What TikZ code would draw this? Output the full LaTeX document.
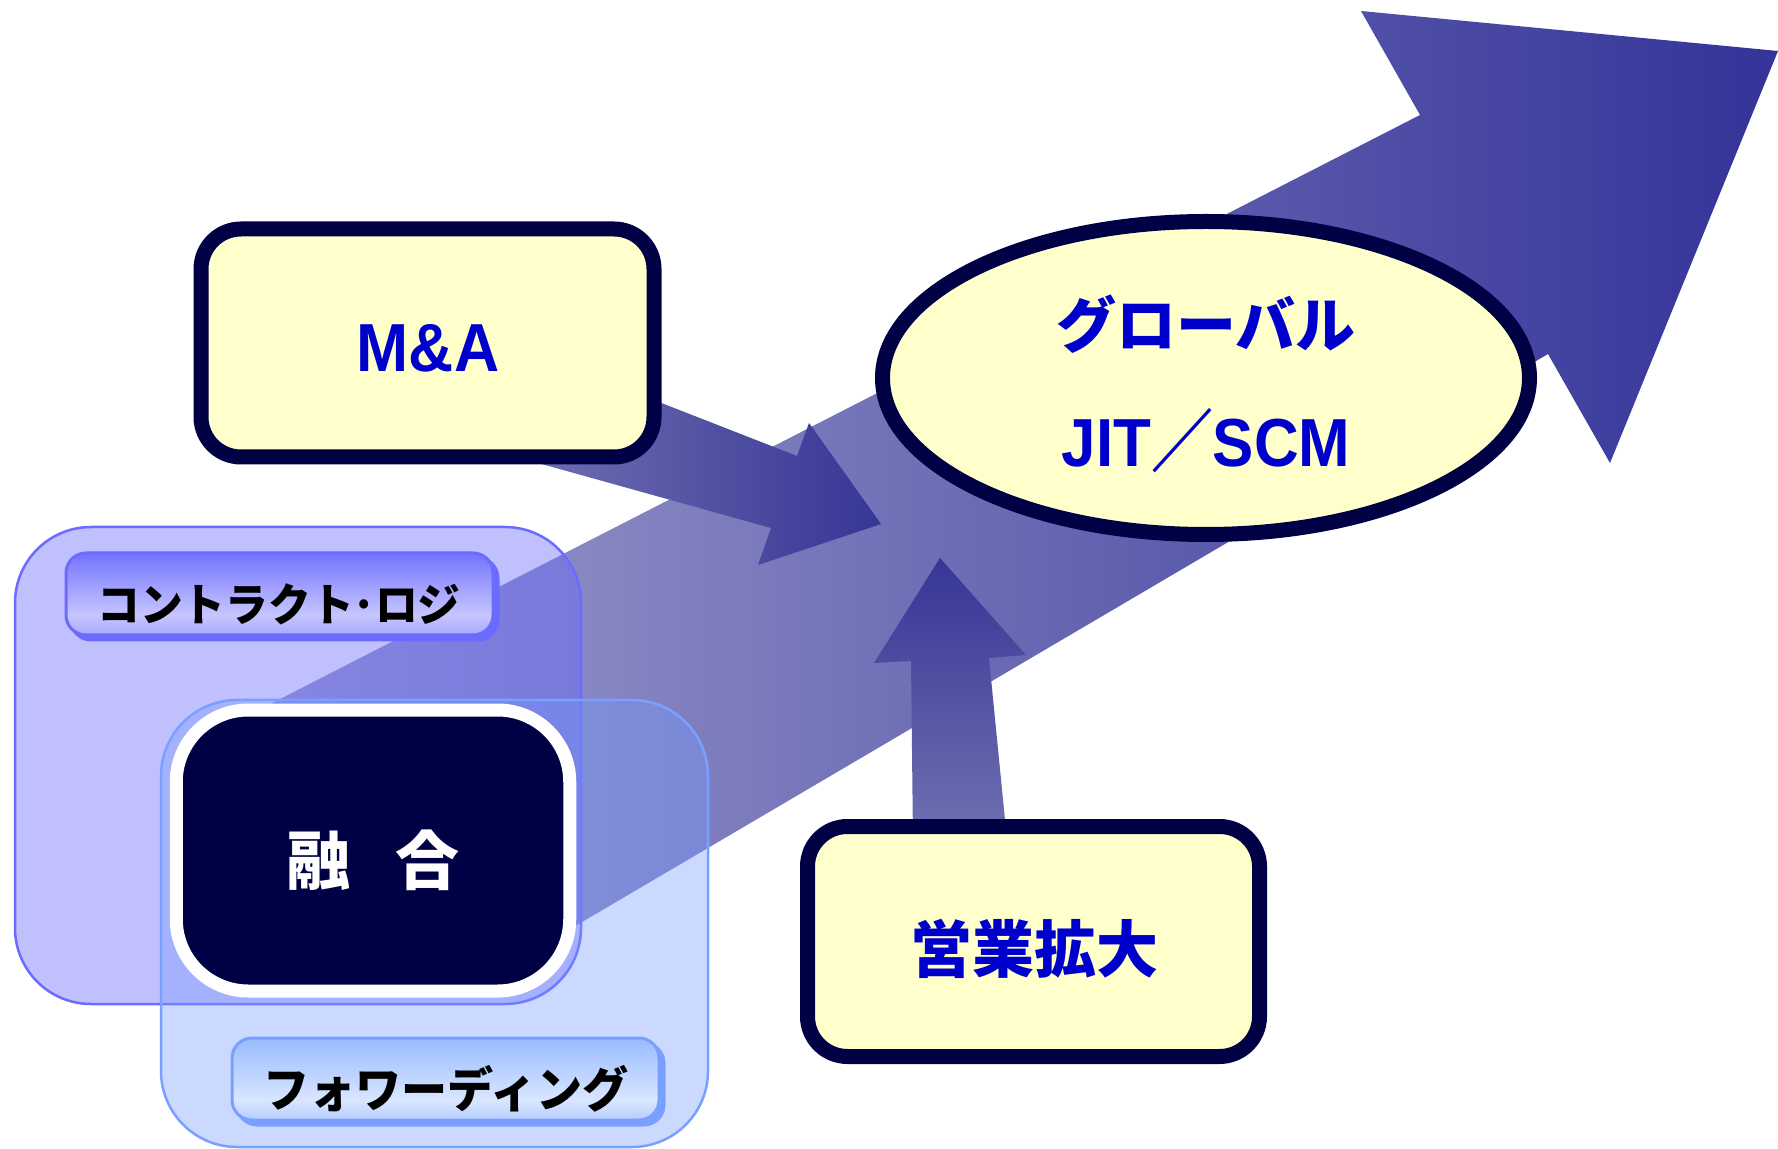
\documentclass[tikz,border=0pt]{standalone}
\usepackage{fontspec}
\setmainfont{Liberation Sans}
\newfontfamily\cjk{Noto Sans CJK JP}
\usetikzlibrary{shapes.geometric}
\definecolor{navy}{RGB}{0,0,68}
\definecolor{cream}{RGB}{255,255,204}
\definecolor{tblue}{RGB}{0,0,204}
\definecolor{arrowL}{RGB}{158,158,206}
\definecolor{arrowR}{RGB}{51,51,153}
\definecolor{arrowD}{RGB}{54,54,150}
\definecolor{arrowM}{RGB}{112,112,178}
\definecolor{cfill}{RGB}{102,102,255}
\definecolor{cline}{RGB}{107,107,255}
\definecolor{ffill}{RGB}{119,153,255}
\definecolor{fline}{RGB}{122,160,255}
\definecolor{cgA}{RGB}{115,115,255}
\definecolor{cgB}{RGB}{198,198,255}
\definecolor{cgC}{RGB}{168,168,255}
\definecolor{fgA}{RGB}{153,187,255}
\definecolor{fgB}{RGB}{216,230,255}
\definecolor{fgC}{RGB}{181,204,255}
\pgfdeclareverticalshading{cgel}{100bp}{color(0bp)=(cgC); color(25bp)=(cgC); color(37bp)=(cgB); color(75bp)=(cgA); color(100bp)=(cgA)}
\pgfdeclareverticalshading{fgel}{100bp}{color(0bp)=(fgC); color(25bp)=(fgC); color(37bp)=(fgB); color(75bp)=(fgA); color(100bp)=(fgA)}
\begin{document}
\begin{tikzpicture}[x=0.5pt,y=-0.5pt,
  ybox/.style={draw=navy, line width=7.5pt, fill=cream, rounded corners=20pt, inner sep=0pt},
  bigbox/.style={rounded corners=38pt, line width=1.25pt, inner sep=0pt},
  labelbox/.style={rounded corners=10pt, line width=1.5pt, minimum width=213.5pt, minimum height=41pt, inner sep=0pt},
  lattext/.style={text=tblue, inner sep=0pt, font=\fontsize{34}{34}\selectfont\bfseries},
  jptext/.style={text=tblue, inner sep=0pt, font=\cjk\fontsize{31}{31}\selectfont\bfseries},
  labtext/.style={text=black, inner sep=0pt}
]
\useasboundingbox (0,0) rectangle (1778,1149);

% big arrow
\shade[left color=arrowL, right color=arrowR]
  (245,717) -- (1420,115) -- (1361,11) -- (1778,51) -- (1610,463) -- (1548,354) -- (560,935) -- cycle;

% M&A arrow
\shade[left color=arrowM, right color=arrowD]
  (600,379) -- (797,456) -- (809,423) -- (881,524) -- (758,565) -- (771,528) -- (520,458) -- cycle;

% vertical arrow
\shade[top color=arrowD, bottom color=arrowM]
  (913,840) -- (911,661) -- (874,663) -- (940,558) -- (1026,655) -- (989,658) -- (1007,840) -- cycle;

% translucent group boxes
\node[bigbox, fill=cfill, fill opacity=0.41, draw=cline, minimum width=283pt, minimum height=238.5pt] (contract) at (298,765.5) {};
\node[bigbox, fill=ffill, fill opacity=0.375, draw=fline, minimum width=273.5pt, minimum height=223.5pt] (forward) at (434.5,923.5) {};

% contract label
\node[labelbox, fill=cline, draw=cline] (cshadow) at (284.5,599) {};
\node[labelbox, shade, shading=cgel, draw=cline] (clabel) at (279.5,594) {};
\node[labtext, font=\cjk\fontsize{22.5}{22.5}\selectfont\bfseries] (ctext) at (279,604) {\scalebox{0.95}[1]{コントラクト･ロジ}};

% forwarding label
\node[labelbox, fill=fline, draw=fline] (fshadow) at (450.5,1084) {};
\node[labelbox, shade, shading=fgel, draw=fline] (flabel) at (445.5,1079) {};
\node[labtext, font=\cjk\fontsize{24}{24}\selectfont\bfseries] (ftext) at (446,1089) {\scalebox{0.96}[1]{フォワーディング}};

% fusion box
\node[draw=white, line width=6.5pt, fill=navy, rounded corners=36pt, minimum width=196.75pt, minimum height=140.5pt, inner sep=0pt] (yugo) at (373,850.5) {};
\node[text=white, inner sep=0pt, font=\cjk\fontsize{32}{32}\selectfont\bfseries] (yugotext) at (373,860) {融\hspace{0.7em}合};

% M&A box
\node[ybox, minimum width=226.5pt, minimum height=114pt] (ma) at (427.5,343) {};
\node[lattext, anchor=base] (matext) at (428,372) {\scalebox{0.92}[1]{M\&A}};

% ellipse
\node[ellipse, draw=navy, line width=7.5pt, fill=cream, minimum width=323.5pt, minimum height=156.5pt, inner sep=0pt] (glob) at (1206,378) {};
\node[jptext, font=\cjk\fontsize{30}{30}\selectfont\bfseries] (globtext) at (1206,324) {グローバル};
\node[lattext, anchor=base] (jittext) at (1206,467) {\scalebox{0.91}[1]{JIT{\cjk ／}SCM}};

% sales box
\node[ybox, minimum width=226pt, minimum height=115pt] (sales) at (1033.5,941.5) {};
\node[jptext] (salestext) at (1034,949) {営業拡大};
\end{tikzpicture}
\end{document}
